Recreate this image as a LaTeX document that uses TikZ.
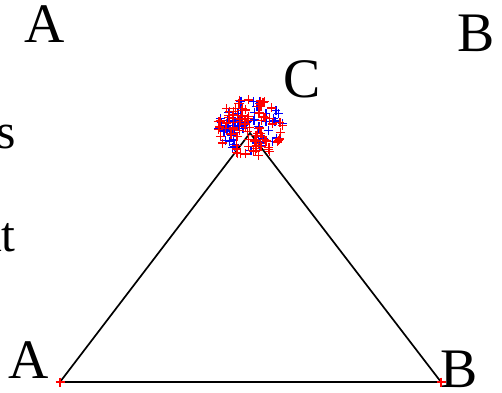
\documentclass[tikz,border=0pt]{standalone}
\usepackage{fontspec}
\setmainfont{Liberation Serif}
\tikzset{
  vlabel/.style={inner sep=0pt, font=\fontsize{56}{56}\selectfont},
  sidetext/.style={inner sep=0pt, font=\fontsize{50}{50}\selectfont},
  edge/.style={line width=1.7pt, black},
  redpt/.style={draw=red, line width=1.3pt},
  bluept/.style={draw=blue, line width=1.3pt},
}
% small plus sign centred at a point
\newcommand{\plusmark}[3]{\draw[#1] (#2,#3) ++(-4.5,0) -- ++(9,0) ++(-4.5,-4.5) -- ++(0,9);}

\begin{document}
\begin{tikzpicture}[x=1bp,y=-1bp]
  \useasboundingbox (0,0) rectangle (502,392);
  \clip (0,0) rectangle (502,392);

  % vertices of the triangle
  \coordinate (vA) at (60,382);
  \coordinate (vB) at (441,382);
  \coordinate (vC) at (250,133);

  % triangle
  \draw[edge] (vA) -- (vB) -- (vC) -- cycle;

  % labels
  \node[vlabel] (lA) at (29,360) {A};
  \node[vlabel] (lB) at (459,369) {B};
  \node[vlabel] (lC) at (302,79) {C};
  \node[vlabel] (tA) at (45,24) {A};
  \node[vlabel] (tB) at (476,33) {B};
  \node[sidetext, anchor=base east] (ts) at (16,148) {s};
  \node[sidetext, anchor=base east] (tt) at (16,251) {nt};

  % samples around the top vertex
  \pgfmathsetseed{1234}
  \foreach \i in {1,...,55}{
    \pgfmathsetmacro{\rr}{sqrt(rnd)}
    \pgfmathsetmacro{\aa}{360*rnd}
    \pgfmathsetmacro{\px}{250+33*\rr*cos(\aa)}
    \pgfmathsetmacro{\py}{127+27*\rr*sin(\aa)}
    \plusmark{bluept}{\px}{\py}
  }
  \foreach \i in {1,...,95}{
    \pgfmathsetmacro{\rr}{sqrt(rnd)}
    \pgfmathsetmacro{\aa}{360*rnd}
    \pgfmathsetmacro{\px}{250+34*\rr*cos(\aa)}
    \pgfmathsetmacro{\py}{128+30*\rr*sin(\aa)}
    \plusmark{redpt}{\px}{\py}
  }

  % markers on the base corners
  \plusmark{redpt}{60}{382}
  \plusmark{redpt}{441}{382}
\end{tikzpicture}
\end{document}
